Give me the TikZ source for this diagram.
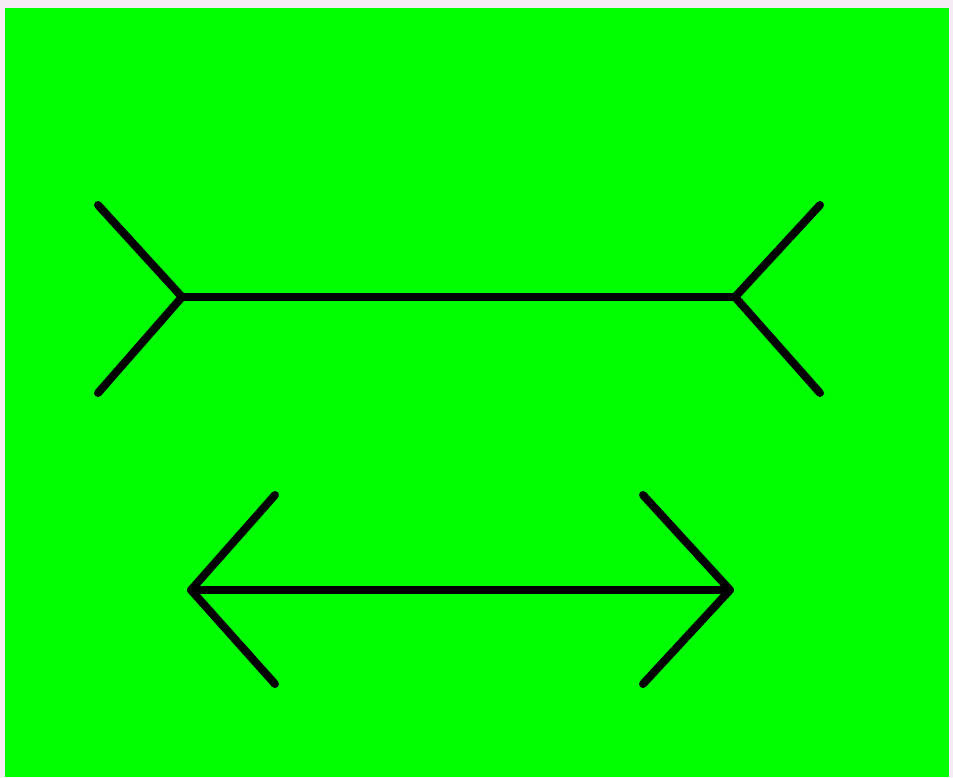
\documentclass[tikz,border=0pt]{standalone}
\usepackage{tikz}

\definecolor{fondo}{RGB}{0,255,0}
\definecolor{borde}{RGB}{244,236,242}

\begin{document}
\begin{tikzpicture}[x=1pt,y=-1pt,line width=8pt,line cap=round,line join=round]
  % fondo
  \fill[borde] (0,0) rectangle (953,777);
  \fill[fondo] (5,8) rectangle (949,777);
  \useasboundingbox (0,0) rectangle (953,777);
  % linea de arriba (aletas hacia fuera)
  \coordinate (ai) at (182,297);
  \coordinate (ad) at (735,297);
  \coordinate (aia) at (98,205);
  \coordinate (aib) at (98,393);
  \coordinate (ada) at (820,205);
  \coordinate (adb) at (820,393);
  \draw (ai) -- (ad);
  \draw (aia) -- (ai) -- (aib);
  \draw (ada) -- (ad) -- (adb);
  % linea de abajo (puntas de flecha)
  \coordinate (bi) at (191,590);
  \coordinate (bd) at (730,590);
  \coordinate (bia) at (275,495);
  \coordinate (bib) at (275,684);
  \coordinate (bda) at (643,495);
  \coordinate (bdb) at (643,684);
  \draw (bi) -- (bd);
  \draw (bia) -- (bi) -- (bib);
  \draw (bda) -- (bd) -- (bdb);
\end{tikzpicture}
\end{document}
